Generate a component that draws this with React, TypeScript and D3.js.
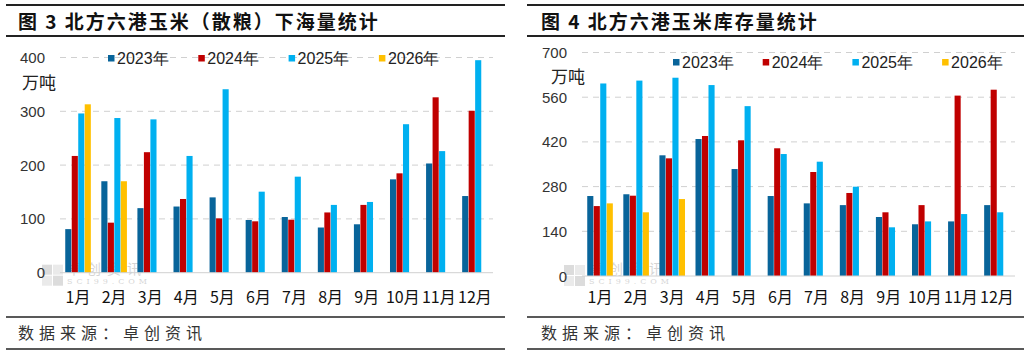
import React from "react";
import * as d3 from "d3";

const months = ["1月", "2月", "3月", "4月", "5月", "6月", "7月", "8月", "9月", "10月", "11月", "12月"];
const seriesNames = ["2023年", "2024年", "2025年", "2026年"];
const seriesColors = ["#08649A", "#C00000", "#00B0F0", "#FFC000"];

// 图3 下海量 (万吨)
const ship2023 = [81, 170, 120, 123, 140, 98, 103.5, 84, 90, 173.5, 203, 142.5];
const ship2024 = [217, 93, 224, 137, 101, 95.5, 98.5, 112, 126, 184.7, 326, 301];
const ship2025 = [296, 287.5, 285, 217, 341, 150.6, 178.5, 126, 131.5, 276, 226, 395];
const ship2026 = [313, 170, null, null, null, null, null, null, null, null, null, null];
const shipTicks = [0, 100, 200, 300, 400];

// 图4 库存量 (万吨)
const stock2023 = [250.5, 256, 378, 429, 335, 250.5, 227.5, 222, 184.8, 162, 171, 222];
const stock2024 = [219, 251.5, 368.5, 438.5, 425, 400, 325.7, 260, 199.5, 222, 565, 583.5];
const stock2025 = [603, 612, 621, 598, 532, 382, 358, 279.7, 152.5, 171, 194, 199.5];
const stock2026 = [227.5, 199.5, 241, null, null, null, null, null, null, null, null, null];
const stockTicks = [0, 140, 280, 420, 560, 700];

const CJK = "'Noto Sans CJK SC', 'Noto Sans', sans-serif";
const NUM = "'Liberation Sans', Arial, sans-serif";

type ChartProps = {
  title: string;
  series: (number | null)[][];
  ticks: number[];
  xr: [number, number];
  yr: [number, number];
  tickX: number;
  unitPos: [number, number];
  legend: [number, number, number];
  ruleX: [number, number];
  titleX: number;
};

function Chart(p: ChartProps) {
  const max = p.ticks[p.ticks.length - 1];
  const y = d3.scaleLinear().domain([0, max]).range(p.yr);
  const x0 = d3.scaleBand<string>().domain(months).range(p.xr).padding(0);
  const bw = x0.bandwidth();
  const x1 = d3
    .scaleBand<string>()
    .domain(seriesNames)
    .range([bw / 2 - 12.8, bw / 2 + 12.8])
    .paddingInner(0.06);
  const [lx, ly, lstep] = p.legend;
  const wx = p.xr[0] - 18;
  const wy = Math.min(y(0), 273);
  return (
    <g>
      <line x1={p.ruleX[0]} x2={p.ruleX[1]} y1={5} y2={5} stroke="#222" strokeWidth={2} />
      <text x={p.titleX} y={29} fontFamily={CJK} fontWeight={700} fontSize={19} letterSpacing={2} fill="#111">
        {p.title}
      </text>
      <line x1={p.ruleX[0]} x2={p.ruleX[1]} y1={36} y2={36} stroke="#222" strokeWidth={2} />

      {/* watermark */}
      <g opacity={0.4}>
        <rect x={wx} y={wy - 8} width={10} height={10} fill="#aaa" />
        <rect x={wx + 11} y={wy - 8} width={10} height={10} fill="#ccc" />
        <rect x={wx} y={wy + 3} width={10} height={10} fill="#ccc" />
        <rect x={wx + 11} y={wy + 3} width={10} height={10} fill="#aaa" />
        <text x={wx + 25} y={wy + 1} fontFamily={CJK} fontSize={14} letterSpacing={6} fill="#999">
          卓创资讯
        </text>
        <text x={wx + 25} y={wy + 11} fontFamily="'DejaVu Serif', serif" fontSize={8} textLength={80} fill="#999">
          SCI99.COM
        </text>
      </g>

      {p.ticks.map((t) => (
        <g key={t}>
          {t > 0 && (
            <line x1={p.xr[0]} x2={p.xr[1]} y1={y(t)} y2={y(t)} stroke="#D0D0D0" strokeDasharray="6,5" strokeWidth={1} />
          )}
          <text x={p.tickX} y={y(t) + 5.5} textAnchor="end" fontFamily={NUM} fontSize={15} fill="#333">
            {t}
          </text>
        </g>
      ))}
      <text x={p.unitPos[0]} y={p.unitPos[1] + 6} fontFamily={CJK} fontSize={17} fill="#222">
        万吨
      </text>

      {p.series.map((vals, si) =>
        vals.map((v, mi) =>
          v == null ? null : (
            <rect
              key={si + "-" + mi}
              x={(x0(months[mi]) as number) + (x1(seriesNames[si]) as number)}
              y={y(v)}
              width={x1.bandwidth()}
              height={y(0) - y(v)}
              fill={seriesColors[si]}
            />
          )
        )
      )}
      <line x1={p.xr[0]} x2={p.xr[1]} y1={y(0)} y2={y(0)} stroke="#D0D0D0" strokeWidth={1} />

      {months.map((m) => (
        <text
          key={m}
          x={(x0(m) as number) + bw / 2}
          y={303}
          textAnchor="middle"
          fontFamily={CJK}
          fontSize={16}
          fill="#111"
        >
          {m}
        </text>
      ))}

      {seriesNames.map((s, i) => (
        <g key={s}>
          <rect x={lx + i * lstep} y={ly - 3} width={6.5} height={6.5} fill={seriesColors[i]} />
          <text x={lx + i * lstep + 9} y={ly + 6} fontFamily={NUM} fontSize={16} fill="#222">
            {s}
          </text>
        </g>
      ))}

      <line x1={p.ruleX[0]} x2={p.ruleX[1]} y1={317} y2={317} stroke="#222" strokeWidth={1.5} />
      <text x={p.titleX} y={339} fontFamily={CJK} fontSize={16} letterSpacing={5} fill="#333">
        数据来源：卓创资讯
      </text>
      <line x1={p.ruleX[0]} x2={p.ruleX[1]} y1={349} y2={349} stroke="#222" strokeWidth={1.5} />
    </g>
  );
}

export default function App() {
  return (
    <svg width={1028} height={355} style={{ position: "absolute", left: 0, top: 0, background: "#fff" }}>
      <rect width={1028} height={355} fill="#fff" />
      <Chart
        title="图 3 北方六港玉米（散粮）下海量统计"
        series={[ship2023, ship2024, ship2025, ship2026]}
        ticks={shipTicks}
        xr={[60, 493]}
        yr={[272.7, 57.5]}
        tickX={45}
        unitPos={[22, 83]}
        legend={[108, 58, 90.3]}
        ruleX={[6, 505]}
        titleX={18}
      />
      <Chart
        title="图 4 北方六港玉米库存量统计"
        series={[stock2023, stock2024, stock2025, stock2026]}
        ticks={stockTicks}
        xr={[582, 1015]}
        yr={[276, 52.5]}
        tickX={567}
        unitPos={[551, 77]}
        legend={[673, 62, 89.7]}
        ruleX={[527, 1024]}
        titleX={541}
      />
    </svg>
  );
}
